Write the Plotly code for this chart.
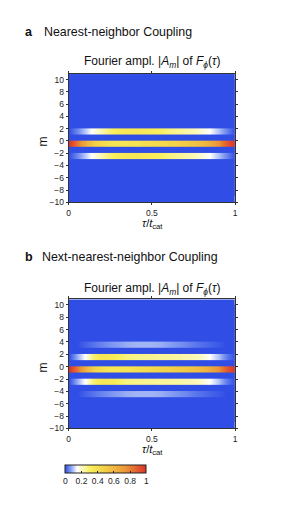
import plotly.graph_objects as go

# ---------------- data ----------------
tau = [0.0, 0.05, 0.1, 0.15, 0.2, 0.25, 0.3, 0.35, 0.4, 0.45, 0.5,
       0.55, 0.6, 0.65, 0.7, 0.75, 0.8, 0.85, 0.9, 0.95, 1.0]
m_values = list(range(-9, 11))

# panel a: nearest-neighbor coupling, |A_m| for |m| = 0, 2 (others ~0)
a_m0 = [1.0, 0.84, 0.64, 0.50, 0.43, 0.39, 0.37, 0.37, 0.38, 0.40, 0.42,
        0.44, 0.46, 0.48, 0.51, 0.54, 0.58, 0.65, 0.76, 0.90, 1.0]
a_m2 = [0.0, 0.05, 0.11, 0.17, 0.23, 0.30, 0.34, 0.36, 0.36, 0.35, 0.33,
        0.31, 0.28, 0.26, 0.24, 0.22, 0.19, 0.15, 0.10, 0.05, 0.0]

# panel b: next-nearest-neighbor coupling, |A_m| for |m| = 0, 2, 4
b_m0 = [1.0, 0.84, 0.62, 0.47, 0.40, 0.37, 0.37, 0.38, 0.40, 0.42, 0.44,
        0.46, 0.48, 0.50, 0.52, 0.55, 0.59, 0.65, 0.76, 0.90, 1.0]
b_m2 = [0.0, 0.08, 0.16, 0.30, 0.36, 0.35, 0.31, 0.28, 0.27, 0.26, 0.26,
        0.25, 0.25, 0.24, 0.23, 0.22, 0.20, 0.15, 0.10, 0.04, 0.0]
b_m4 = [0.0, 0.0, 0.02, 0.035, 0.05, 0.065, 0.075, 0.085, 0.09, 0.09, 0.09,
        0.085, 0.075, 0.065, 0.055, 0.04, 0.03, 0.02, 0.01, 0.0, 0.0]

y_ticks = [-10, -8, -6, -4, -2, 0, 2, 4, 6, 8, 10]
x_ticks = [0, 0.5, 1]
x_ticklabels = ["0", "0.5", "1"]
cb_ticks = [0, 0.2, 0.4, 0.6, 0.8, 1]
cb_ticklabels = ["0", "0.2", "0.4", "0.6", "0.8", "1"]

rows_a = {0: a_m0, 2: a_m2}
rows_b = {0: b_m0, 2: b_m2, 4: b_m4}

colorscale = [
    [0.0, "rgb(48,78,230)"],
    [0.07, "rgb(130,155,242)"],
    [0.15, "rgb(255,255,255)"],
    [0.22, "rgb(252,248,180)"],
    [0.32, "rgb(248,238,90)"],
    [0.50, "rgb(242,205,70)"],
    [0.75, "rgb(235,150,55)"],
    [1.0, "rgb(220,50,42)"],
]

# the page body adds an 8px margin; shift all reference positions by it
OFF = 8
W, H = 299 - OFF, 506 - OFF
FONT = "Liberation Sans, Arial, Helvetica, sans-serif"

fig = go.Figure()

def add_panel(rows, xa, ya):
    zero = [0.0] * len(tau)
    for m in m_values:
        vals = rows.get(abs(m), zero)
        fig.add_trace(go.Heatmap(
            x=tau, y=[m - 0.5, m + 0.5], z=[vals, vals],
            coloraxis="coloraxis", zsmooth="best",
            xaxis=xa, yaxis=ya, hoverinfo="skip", showscale=False))

add_panel(rows_a, "x", "y")
add_panel(rows_b, "x2", "y2")

def py(px):
    return 1 - (px - OFF) / H

def pxx(px):
    return (px - OFF) / W

x_dom = [pxx(67.7), pxx(237)]
ya_dom = [py(204.3), py(74.7)]
yb_dom = [py(432.7), py(302.3)]

axis_common = dict(showline=True, linecolor="#333", linewidth=1, mirror="ticks",
                   ticks="outside", ticklen=2, tickwidth=1, tickcolor="#333",
                   showgrid=False, zeroline=False,
                   tickfont=dict(size=8.5, family=FONT, color="#222"))

xax = dict(axis_common, range=[0, 1], tickvals=x_ticks, ticktext=x_ticklabels)
yax = dict(axis_common, range=[-10, 10.9], tickvals=y_ticks,
           ticktext=[("\u2212" + str(-v)) if v < 0 else str(v) for v in y_ticks])

fig.update_layout(
    width=W, height=H,
    margin=dict(l=0, r=0, t=0, b=0),
    paper_bgcolor="white", plot_bgcolor="white",
    xaxis=dict(xax, domain=x_dom, anchor="y"),
    yaxis=dict(yax, domain=ya_dom, anchor="x"),
    xaxis2=dict(xax, domain=x_dom, anchor="y2"),
    yaxis2=dict(yax, domain=yb_dom, anchor="x2"),
    coloraxis=dict(
        colorscale=colorscale, cmin=0, cmax=1,
        colorbar=dict(
            orientation="h", x=pxx(105.5), xanchor="center",
            y=py(469.7), yanchor="top",
            len=81, lenmode="pixels", thickness=8, thicknessmode="pixels",
            xpad=0, ypad=0,
            outlinecolor="#222", outlinewidth=1,
            tickvals=cb_ticks, ticktext=cb_ticklabels,
            ticks="inside", ticklen=2, tickcolor="#222",
            tickfont=dict(size=8.5, family=FONT, color="#222"),
        ),
    ),
    showlegend=False,
    font=dict(family=FONT, color="#111"),
)

title_html = ("Fourier ampl. |<i>A</i><sub><i>m</i></sub>| of "
              "<i>F</i><sub><i>\u03d5</i></sub>(<i>\u03c4</i>)")
xlab_html = "<i>\u03c4</i>/<i>t</i><sub>cat</sub>"

ann = []
def add_text(text, x, y, size, xanchor="left", textangle=0):
    ann.append(dict(text=text, x=pxx(x), y=py(y), xref="paper", yref="paper",
                    xanchor=xanchor, yanchor="middle", showarrow=False,
                    textangle=textangle,
                    font=dict(size=size, family=FONT, color="#111")))

add_text("<b>a</b>", 21.5, 32, 12.5)
add_text("Nearest-neighbor Coupling", 40.5, 32, 12.4)
add_text(title_html, 152.2, 63, 12, xanchor="center")
add_text("m", 41.7, 142.7, 12, xanchor="center", textangle=-90)
add_text(xlab_html, 152.7, 226, 11, xanchor="center")

add_text("<b>b</b>", 21.5, 260, 12.5)
add_text("Next-nearest-neighbor Coupling", 38.5, 260, 12.4)
add_text(title_html, 152.2, 291.7, 12, xanchor="center")
add_text("m", 41.7, 371, 12, xanchor="center", textangle=-90)
add_text(xlab_html, 152.7, 454, 11, xanchor="center")

fig.update_layout(annotations=ann)

fig.write_html("out.html")
